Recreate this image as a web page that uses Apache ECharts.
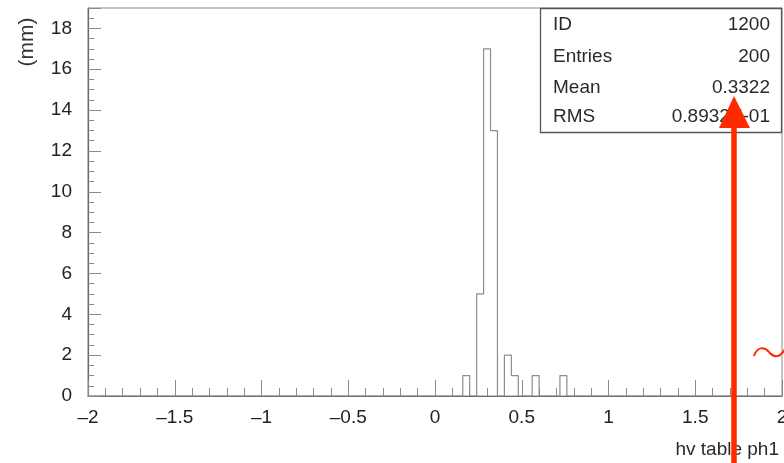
<!DOCTYPE html>
<html>
<head>
<meta charset="utf-8">
<script src="https://cdn.jsdelivr.net/npm/echarts@6/dist/echarts.min.js"></script>
<style>
  html, body { margin: 0; padding: 0; background: #fff; }
  #chart { width: 784px; height: 463px; }
</style>
</head>
<body>
<div id="chart"></div>
<script>
// Histogram "hv table ph1": non-empty bins (lower edge) and their counts
const binWidth = 0.04;
const binLow = [0.16, 0.24, 0.28, 0.32, 0.40, 0.44, 0.56, 0.72];
const binCount = [1, 5, 17, 13, 2, 1, 1, 1];
const xRange = [-2, 2];
const yRange = [0, 19];

// Statistics box
const statLabels = ['ID', 'Entries', 'Mean', 'RMS'];
const statValues = ['1200', '200', '0.3322', '0.8932E-01'];

// Build the step outline of the histogram (empty bins sit on the baseline)
function outline() {
  const pts = [[xRange[0], 0]];
  let prevEnd = xRange[0];
  binLow.forEach((lo, i) => {
    if (Math.abs(lo - prevEnd) > 1e-9) pts.push([prevEnd, 0]);
    pts.push([lo, binCount[i]]);
    prevEnd = +(lo + binWidth).toFixed(4);
  });
  pts.push([prevEnd, 0]);
  pts.push([xRange[1], 0]);
  return pts;
}

const chart = echarts.init(document.getElementById('chart'), null, { renderer: 'canvas' });
const labelFont = 'Liberation Sans, Arial, sans-serif';
const axisGray = '#6a6a6a';
const tickGray = '#8a8a8a';

const statGraphics = [];
const rowY = [25, 57, 88, 117];
statLabels.forEach((t, i) => {
  statGraphics.push({
    type: 'text', x: 553, y: rowY[i], z: 20,
    style: { text: t, font: '19px ' + labelFont, fill: '#2a2a2a', align: 'left', verticalAlign: 'middle' }
  });
  statGraphics.push({
    type: 'text', x: 770, y: rowY[i], z: 20,
    style: { text: statValues[i], font: '19px ' + labelFont, fill: '#2a2a2a', align: 'right', verticalAlign: 'middle' }
  });
});

chart.setOption({
  animation: false,
  backgroundColor: '#fff',
  grid: {
    left: 88, right: 2, top: 8, bottom: 67,
    outerBoundsMode: 'none', containLabel: false,
    show: true, borderColor: tickGray, borderWidth: 1, backgroundColor: 'transparent'
  },
  xAxis: {
    type: 'value', min: xRange[0], max: xRange[1], interval: 0.5,
    axisLine: { show: true, onZero: false, lineStyle: { color: axisGray, width: 1.2 } },
    axisTick: { show: true, inside: true, length: 16, lineStyle: { color: tickGray } },
    minorTick: { show: true, splitNumber: 5, length: 8, lineStyle: { color: tickGray } },
    splitLine: { show: false },
    axisLabel: {
      margin: 12, color: '#222', fontFamily: labelFont, fontSize: 19,
      hideOverlap: false,
      formatter: v => String(v).replace('-', '\u2013')
    },
    name: 'hv table ph1', nameLocation: 'end', nameGap: 0,
    nameTextStyle: {
      color: '#2a2a2a', fontFamily: labelFont, fontSize: 19,
      align: 'right', verticalAlign: 'top', padding: [44, 3, 0, 0]
    }
  },
  yAxis: {
    type: 'value', min: yRange[0], max: yRange[1], interval: 2,
    axisLine: { show: true, onZero: false, lineStyle: { color: axisGray, width: 1.2 } },
    axisTick: { show: true, inside: true, length: 13, lineStyle: { color: tickGray } },
    minorTick: { show: true, splitNumber: 4, length: 6, lineStyle: { color: tickGray } },
    splitLine: { show: false },
    axisLabel: {
      margin: 16, color: '#222', fontFamily: labelFont, fontSize: 19,
      formatter: v => (v > 18 ? '' : String(v))
    }
  },
  series: [{
    type: 'line',
    step: 'end',
    data: outline(),
    symbol: 'none',
    lineStyle: { color: '#8c8c8c', width: 1.2 },
    z: 5
  }],
  graphic: [
    {
      type: 'text', x: 27, y: 42, rotation: Math.PI / 2, z: 20,
      style: { text: '(mm)', font: '21px ' + labelFont, fill: '#333', align: 'center', verticalAlign: 'middle' }
    },
    {
      type: 'rect', z: 15,
      shape: { x: 540.5, y: 8.5, width: 241, height: 124 },
      style: { fill: '#fff', stroke: '#555', lineWidth: 1.3 }
    },
    ...statGraphics,
    // red annotation arrow
    {
      type: 'line', z: 30,
      shape: { x1: 734, y1: 463, x2: 734, y2: 120 },
      style: { stroke: '#ff2a00', lineWidth: 5.5 }
    },
    {
      type: 'polygon', z: 30,
      shape: { points: [[734, 96], [719, 128], [750, 128]] },
      style: { fill: '#ff2a00' }
    },
    // small red tilde at the right edge
    {
      type: 'bezierCurve', z: 30,
      shape: { x1: 754, y1: 356, cpx1: 757, cpy1: 347, cpx2: 764, cpy2: 346, x2: 769, y2: 352 },
      style: { stroke: '#ff2a00', lineWidth: 2, fill: null }
    },
    {
      type: 'bezierCurve', z: 30,
      shape: { x1: 769, y1: 352, cpx1: 774, cpy1: 358, cpx2: 780, cpy2: 358, x2: 785, y2: 349 },
      style: { stroke: '#ff2a00', lineWidth: 2, fill: null }
    }
  ]
});
</script>
</body>
</html>
